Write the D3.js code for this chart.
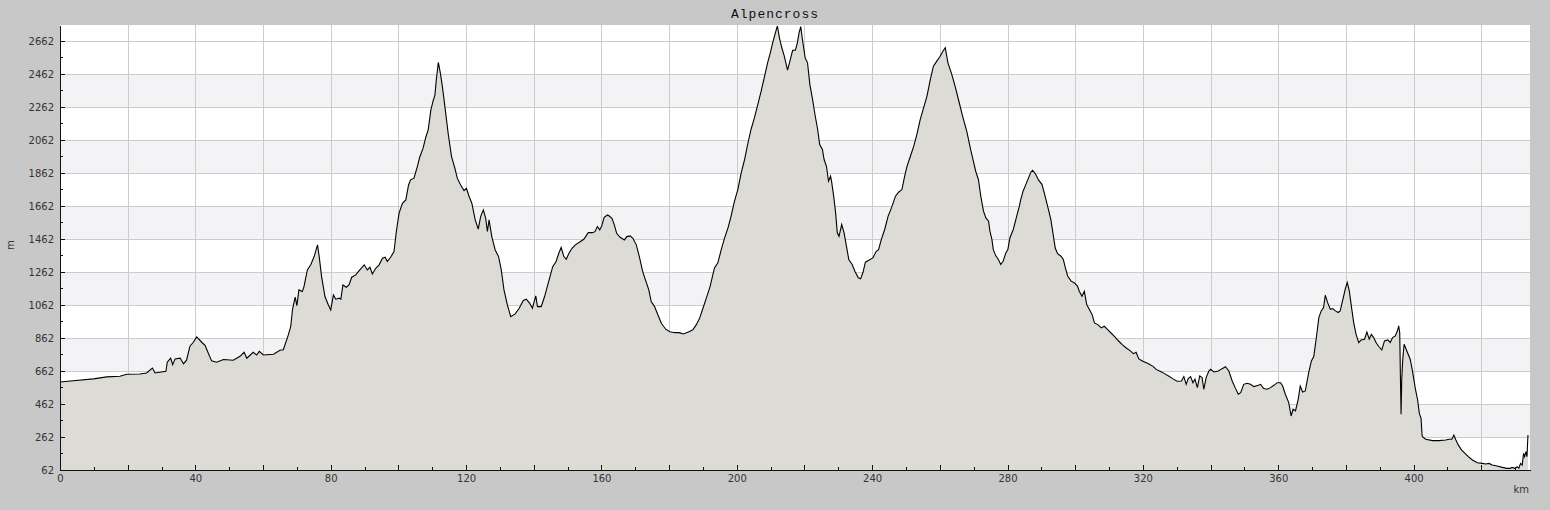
<!DOCTYPE html>
<html>
<head>
<meta charset="utf-8">
<script src="https://cdn.jsdelivr.net/npm/d3@7"></script>
<style>
  html, body { margin: 0; padding: 0; background: #c8c8c8; }
  svg { display: block; }
</style>
</head>
<body>
<svg id="chart" width="1550" height="510"></svg>
<script>
// ---- data (distance in km, elevation in m) ----
const title = "Alpencross";
const xLabel = "km";
const yLabel = "m";
const xTickLabels = [0, 40, 80, 120, 160, 200, 240, 280, 320, 360, 400];
const yTickLabels = [62, 262, 462, 662, 862, 1062, 1262, 1462, 1662, 1862, 2062, 2262, 2462, 2662];

const distance = [
  0, 3.9, 9.9, 13.8, 17.7, 19.7, 23.6, 25.6, 27.3, 28.1, 31.3, 31.7, 32.7, 33.3, 34.0, 35.5, 36.5, 37.4, 38.4, 39.4,
  40.4, 41.9, 42.9, 43.8, 44.8, 46.3, 48.3, 51.2, 53.2, 54.4, 55.2, 57.1, 58.1, 58.9, 60.1, 63.1, 65.0, 66.0, 67.5, 68.2,
  68.7, 69.5, 70.0, 70.6, 71.6, 72.1, 73.1, 74.1, 75.1, 76.1, 76.6, 77.3, 78.3, 79.3, 80.0, 80.8, 81.5, 82.5, 83.0, 83.6,
  84.6, 85.4, 86.2, 87.4, 88.4, 89.9, 90.8, 91.6, 92.3, 93.3, 94.3, 95.3, 96.1, 96.7, 97.7, 98.7, 99.4, 100.2, 101.2, 102.2,
  103.0, 103.6, 104.6, 105.6, 106.3, 107.3, 108.1, 108.8, 109.6, 110.2, 110.8, 111.2, 111.8, 112.4, 113.0, 113.8, 114.7, 115.7, 116.7, 117.4,
  118.4, 119.4, 120.1, 120.9, 121.7, 122.7, 123.6, 124.3, 125.1, 125.8, 126.3, 126.8, 127.6, 128.6, 129.6, 130.4, 131.2, 132.2, 133.2, 134.5,
  135.7, 136.9, 137.8, 138.8, 139.6, 140.6, 141.1, 142.2, 143.2, 144.4, 145.6, 146.6, 147.4, 148.1, 148.9, 149.6, 150.4, 151.3, 152.3, 153.8,
  154.8, 156.1, 157.3, 158.1, 158.8, 159.5, 160.1, 160.8, 161.8, 162.3, 163.1, 163.8, 164.5, 165.5, 166.8, 167.5, 168.5, 169.3, 170.3, 171.2,
  172.2, 173.0, 174.0, 174.7, 175.7, 176.7, 177.7, 179.0, 180.2, 181.7, 183.0, 184.2, 185.7, 187.0, 188.0, 189.0, 190.0, 191.0, 192.1, 193.4,
  194.4, 195.4, 196.4, 197.4, 198.3, 199.3, 200.3, 201.3, 202.3, 203.2, 204.2, 205.2, 206.2, 207.2, 208.1, 209.1, 209.9, 210.6, 211.4, 212.0,
  212.6, 213.3, 214.0, 215.0, 215.7, 216.5, 217.3, 217.9, 218.4, 218.9, 219.4, 220.2, 220.9, 221.6, 222.4, 223.1, 223.9, 224.5, 225.3, 225.8,
  226.5, 227.1, 227.7, 228.0, 228.7, 229.2, 229.7, 230.2, 231.0, 231.7, 232.4, 233.1, 234.1, 234.9, 235.9, 236.6, 237.3, 238.0, 239.0, 240.2,
  241.2, 241.9, 242.7, 243.7, 244.7, 245.7, 246.9, 247.8, 248.8, 249.6, 250.3, 251.3, 252.3, 253.2, 254.2, 255.2, 256.2, 257.2, 258.1, 259.1,
  260.1, 260.9, 261.6, 262.4, 263.5, 264.6, 265.7, 266.8, 268.0, 269.1, 269.8, 270.6, 271.4, 272.1, 272.9, 273.6, 274.4, 274.8, 275.4, 275.8,
  276.5, 277.3, 278.0, 278.7, 279.5, 280.1, 280.7, 281.7, 282.7, 283.5, 283.9, 284.6, 285.4, 286.2, 286.9, 287.4, 288.2, 289.2, 290.2, 291.0,
  291.6, 292.1, 292.8, 293.5, 294.1, 294.8, 295.8, 296.5, 297.1, 297.8, 298.8, 299.8, 300.7, 301.2, 302.0, 302.7, 303.4, 304.2, 305.0, 305.7,
  306.7, 307.7, 308.6, 309.6, 310.6, 311.6, 312.6, 313.9, 315.1, 316.2, 317.2, 318.0, 318.8, 320.0, 321.5, 323.0, 324.0, 325.1, 326.4, 327.7,
  328.9, 330.1, 331.4, 332.1, 332.8, 333.4, 334.1, 334.8, 335.4, 336.1, 336.8, 337.5, 338.0, 338.7, 339.5, 340.0, 341.0, 342.3, 343.4, 344.4,
  345.4, 346.4, 347.4, 348.2, 348.9, 349.8, 350.8, 351.8, 352.8, 354.1, 354.8, 355.7, 356.7, 357.7, 358.7, 359.7, 360.7, 361.3, 362.1, 363.1,
  363.8, 364.4, 365.1, 365.9, 366.5, 367.2, 368.0, 369.0, 369.8, 370.5, 371.2, 372.0, 372.7, 373.4, 373.9, 374.6, 375.4, 376.1, 376.9, 377.7,
  378.3, 379.0, 379.8, 380.4, 381.0, 381.6, 382.3, 383.0, 383.8, 384.5, 385.5, 386.2, 386.9, 387.5, 388.2, 388.9, 389.7, 390.6, 391.4, 392.4,
  393.1, 393.8, 394.6, 395.2, 395.6, 395.9, 396.1, 396.3, 396.5, 396.8, 397.2, 398.0, 399.0, 399.7, 400.5, 401.2, 401.7, 402.2, 402.5, 402.6,
  403.6, 405.6, 407.5, 409.5, 410.5, 411.3, 411.9, 412.5, 413.2, 414.2, 415.2, 416.4, 417.4, 418.8, 420.3, 421.3, 422.3, 423.2, 424.7, 426.2,
  427.6, 428.6, 429.1, 429.9, 430.6, 431.1, 431.6, 432.1, 432.5, 432.8, 433.2, 433.5, 433.8
];

const elevation = [
  595, 603, 614, 626, 630, 642, 644, 650, 680, 650, 660, 715, 740, 700, 735, 740, 706, 727, 812, 836,
  868, 836, 816, 771, 723, 715, 731, 727, 751, 775, 739, 775, 759, 781, 759, 763, 787, 791, 882, 933,
  1034, 1110, 1058, 1153, 1143, 1173, 1274, 1305, 1355, 1426, 1355, 1234, 1113, 1062, 1032, 1123, 1097, 1103, 1097, 1183,
  1169, 1183, 1230, 1244, 1270, 1305, 1274, 1290, 1250, 1284, 1305, 1345, 1351, 1325, 1351, 1385, 1507, 1618, 1678, 1698,
  1789, 1820, 1830, 1900, 1957, 2012, 2078, 2123, 2244, 2294, 2335, 2426, 2531, 2466, 2385, 2254, 2102, 1961, 1890, 1830,
  1789, 1755, 1769, 1719, 1678, 1577, 1521, 1597, 1638, 1587, 1507, 1577, 1476, 1395, 1355, 1274, 1153, 1062, 991, 1008,
  1042, 1089, 1097, 1072, 1042, 1117, 1052, 1052, 1113, 1203, 1294, 1325, 1375, 1410, 1355, 1339, 1375, 1405, 1426, 1446,
  1460, 1500, 1500, 1506, 1537, 1517, 1541, 1593, 1607, 1601, 1587, 1547, 1496, 1472, 1456, 1476, 1480, 1466, 1426, 1355,
  1264, 1214, 1153, 1082, 1052, 1001, 951, 915, 900, 894, 894, 886, 898, 911, 941, 981, 1042, 1103, 1173, 1286,
  1317, 1397, 1468, 1529, 1599, 1690, 1761, 1862, 1943, 2034, 2125, 2195, 2276, 2357, 2438, 2529, 2589, 2650, 2710, 2752,
  2680, 2620, 2573, 2484, 2539, 2605, 2605, 2650, 2710, 2748, 2670, 2559, 2529, 2397, 2306, 2216, 2125, 2034, 2004, 1943,
  1902, 1812, 1842, 1812, 1711, 1620, 1499, 1478, 1549, 1499, 1418, 1337, 1307, 1266, 1226, 1220, 1260, 1321, 1333, 1347,
  1387, 1397, 1458, 1519, 1599, 1650, 1721, 1745, 1761, 1842, 1902, 1963, 2024, 2094, 2185, 2256, 2327, 2428, 2509, 2539,
  2569, 2599, 2620, 2529, 2460, 2380, 2290, 2200, 2110, 2003, 1943, 1872, 1822, 1721, 1630, 1589, 1569, 1509, 1458, 1397,
  1361, 1337, 1307, 1327, 1377, 1397, 1468, 1519, 1599, 1660, 1700, 1751, 1791, 1832, 1866, 1878, 1858, 1818, 1791, 1731,
  1680, 1640, 1579, 1488, 1407, 1373, 1357, 1337, 1286, 1236, 1206, 1195, 1175, 1145, 1115, 1145, 1064, 1034, 1003, 953,
  943, 923, 933, 913, 892, 872, 848, 822, 801, 785, 767, 775, 735, 721, 707, 690, 670, 660, 646, 630,
  614, 600, 601, 628, 581, 616, 628, 591, 612, 561, 632, 622, 551, 622, 662, 672, 656, 662, 676, 688,
  662, 601, 555, 521, 531, 581, 587, 581, 567, 575, 581, 555, 551, 561, 575, 591, 591, 571, 521, 470,
  389, 430, 420, 490, 571, 535, 541, 652, 723, 749, 854, 985, 1026, 1046, 1121, 1076, 1036, 1040, 1026, 1016,
  1026, 1086, 1157, 1197, 1147, 1056, 955, 884, 834, 850, 854, 898, 854, 884, 864, 834, 810, 789, 844, 850,
  834, 864, 874, 904, 935, 894, 632, 400, 612, 733, 824, 783, 733, 658, 557, 486, 405, 375, 274, 264,
  248, 240, 240, 244, 248, 248, 274, 244, 214, 183, 163, 139, 123, 106, 102, 98, 102, 92, 86, 78,
  72, 72, 78, 72, 82, 72, 102, 92, 163, 143, 173, 143, 274
];

const profile = distance.map((d, i) => ({ km: d, m: elevation[i] }));

// ---- layout ----
const svg = d3.select("#chart");
const plotL = 60, plotR = 1530, plotT = 25, plotB = 470;
const x = d3.scaleLinear().domain([0, 434.4]).range([plotL, plotR]);
const y = d3.scaleLinear().domain([62, 2758]).range([plotB, plotT]);

svg.append("rect").attr("width", 1550).attr("height", 510).attr("fill", "#c8c8c8");
svg.append("rect").attr("x", plotL).attr("y", plotT).attr("width", plotR - plotL).attr("height", plotB - plotT).attr("fill", "#ffffff");

// alternating bands
const bandStarts = d3.range(262, 2662, 400);
svg.append("g").selectAll("rect").data(bandStarts).join("rect")
  .attr("x", plotL).attr("width", plotR - plotL)
  .attr("y", d => y(d + 200)).attr("height", d => y(d) - y(d + 200))
  .attr("fill", "#f3f2f5");

// grid
const grid = svg.append("g").attr("stroke", "#cccccc").attr("stroke-width", 1).attr("shape-rendering", "crispEdges");
grid.selectAll("line.h").data(yTickLabels.slice(1)).join("line").attr("class", "h")
  .attr("x1", plotL).attr("x2", plotR).attr("y1", d => Math.round(y(d)) + 0.5).attr("y2", d => Math.round(y(d)) + 0.5);
grid.selectAll("line.v").data(d3.range(20, 434, 20)).join("line").attr("class", "v")
  .attr("y1", plotT).attr("y2", plotB).attr("x1", d => Math.round(x(d)) + 0.5).attr("x2", d => Math.round(x(d)) + 0.5);

// area + line
const area = d3.area().x(d => x(d.km)).y0(plotB).y1(d => y(d.m));
const line = d3.line().x(d => x(d.km)).y(d => y(d.m));
svg.append("path").datum(profile).attr("d", area).attr("fill", "#dcdbd6");
svg.append("path").datum(profile).attr("d", line).attr("fill", "none").attr("stroke", "#000").attr("stroke-width", 1.1);

// axes
const fontFamily = "'DejaVu Sans', sans-serif";
function styleAxis(g) {
  g.attr("shape-rendering", "crispEdges");
  g.selectAll("path").attr("stroke", "#111");
  g.selectAll("line").attr("stroke", "#111");
  g.selectAll("text").attr("fill", "#333").attr("font-family", fontFamily).attr("font-size", "10px");
}

const yMinor = svg.append("g").attr("transform", `translate(${plotL},0)`)
  .call(d3.axisLeft(y).tickValues(d3.range(162, 2758, 200)).tickSize(-3).tickSizeOuter(0).tickFormat(""));
styleAxis(yMinor);
yMinor.select("path").remove();
const yAxis = svg.append("g").attr("transform", `translate(${plotL},0)`)
  .call(d3.axisLeft(y).tickValues(yTickLabels).tickSize(-5).tickSizeOuter(0).tickPadding(6).tickFormat(d3.format("d")));
styleAxis(yAxis);

const xMinor = svg.append("g").attr("transform", `translate(0,${plotB})`)
  .call(d3.axisBottom(x).tickValues(d3.range(10, 434, 20)).tickSize(-3).tickSizeOuter(0).tickFormat(""));
styleAxis(xMinor);
xMinor.select("path").remove();
const xAxis = svg.append("g").attr("transform", `translate(0,${plotB})`)
  .call(d3.axisBottom(x).tickValues(d3.range(0, 434, 20)).tickSize(-5).tickSizeOuter(0).tickPadding(5)
    .tickFormat(d => xTickLabels.includes(d) ? String(d) : ""));
styleAxis(xAxis);

// labels
svg.append("text").attr("x", 775).attr("y", 18).attr("text-anchor", "middle")
  .attr("font-family", "'Liberation Mono', 'DejaVu Sans Mono', monospace").attr("font-size", "13px")
  .attr("letter-spacing", "1px").attr("fill", "#111").text(title);
svg.append("text").attr("x", 1529).attr("y", 493).attr("text-anchor", "end")
  .attr("font-family", fontFamily).attr("font-size", "10px").attr("fill", "#333").text(xLabel);
svg.append("text").attr("transform", "translate(14,245) rotate(-90)").attr("text-anchor", "middle")
  .attr("font-family", fontFamily).attr("font-size", "10px").attr("fill", "#333").text(yLabel);
</script>
</body>
</html>
